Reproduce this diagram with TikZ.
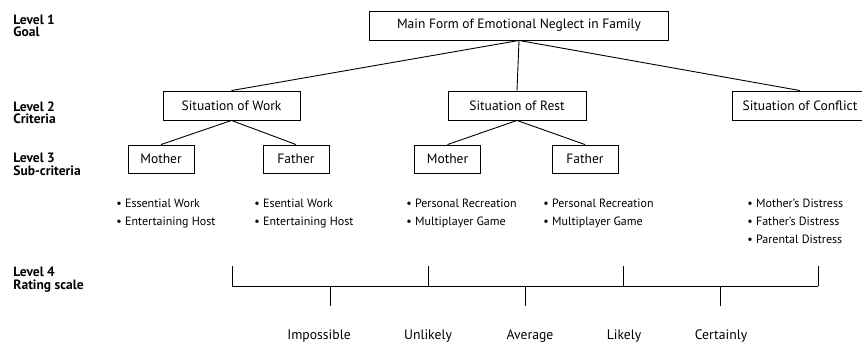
\documentclass[tikz,border=0pt]{standalone}
\usepackage{fontspec}
\setmainfont{PT Sans}
\begin{document}
\begin{tikzpicture}[x=1pt,y=-1pt,line width=0.9pt,
  box/.style={draw,inner sep=0pt,minimum height=29pt,font=\fontsize{13.5}{15}\selectfont},
  sub/.style={box,minimum width=66pt,minimum height=28pt},
  levellabel/.style={anchor=north west,inner sep=0pt,align=left,font=\fontsize{13.5}{12.5}\selectfont\bfseries},
  items/.style={anchor=north west,inner sep=0pt,align=left,font=\fontsize{12}{18}\selectfont},
  rating/.style={anchor=base,inner sep=0pt,font=\fontsize{13.7}{15}\selectfont}]
\clip (0,0) rectangle (862,343);

% level names
\node[levellabel] (lv1) at (13,14) {Level 1\\Goal};
\node[levellabel] (lv2) at (13,101) {Level 2\\Criteria};
\node[levellabel] (lv3) at (13,153) {Level 3\\Sub-criteria};
\node[levellabel] (lv4) at (13,267) {Level 4\\Rating scale};

% goal and criteria
\node[box,minimum width=299pt] (goal) at (519,25.5) {Main Form of Emotional Neglect in Family};
\node[box,minimum width=137pt] (work) at (231.5,105.5) {Situation of Work};
\node[box,minimum width=138pt] (rest) at (517,105.5) {Situation of Rest};
\node[box,minimum width=136pt] (conflict) at (800,105.5) {Situation of Conflict};

% sub-criteria
\node[sub] (workmother) at (161,159) {Mother};
\node[sub] (workfather) at (296,159) {Father};
\node[sub] (restmother) at (447.5,159) {Mother};
\node[sub] (restfather) at (585,159) {Father};

\draw (goal.south) -- (work.north);
\draw (goal.south) -- (rest.north);
\draw (goal.south) -- (conflict.north);
\draw (work.south) -- (workmother.north);
\draw (work.south) -- (workfather.north);
\draw (rest.south) -- (restmother.north);
\draw (rest.south) -- (restfather.north);

% alternatives
\node[items] (itemsa) at (116,199) {\textbullet\ Essential Work\\\textbullet\ Entertaining Host};
\node[items] (itemsb) at (254,199) {\textbullet\ Esential Work\\\textbullet\ Entertaining Host};
\node[items] (itemsc) at (406,199) {\textbullet\ Personal Recreation\\\textbullet\ Multiplayer Game};
\node[items] (itemsd) at (543,199) {\textbullet\ Personal Recreation\\\textbullet\ Multiplayer Game};
\node[items] (itemse) at (747,199) {\textbullet\ Mother's Distress\\\textbullet\ Father's Distress\\\textbullet\ Parental Distress};

% rating scale
\coordinate (scaleleft) at (232,286);
\coordinate (scaleright) at (818,286);
\draw (scaleleft) -- (scaleright);
\foreach \x in {232,428,623,818}
  \draw (\x,286) -- (\x,266);
\foreach \x in {330,525,720}
  \draw (\x,286) -- (\x,306);
\node[rating] (impossible) at (319,339) {Impossible};
\node[rating] (unlikely) at (428,339) {Unlikely};
\node[rating] (average) at (530,339) {Average};
\node[rating] (likely) at (624,339) {Likely};
\node[rating] (certainly) at (721,339) {Certainly};
\end{tikzpicture}
\end{document}
